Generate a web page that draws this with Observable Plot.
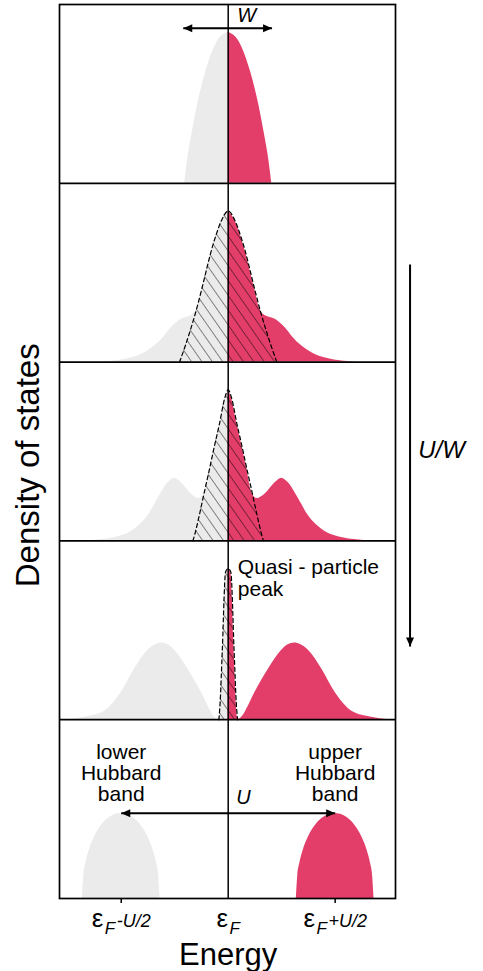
<!DOCTYPE html>
<html><head><meta charset="utf-8">
<script src="https://cdn.jsdelivr.net/npm/d3@7"></script>
<script src="https://cdn.jsdelivr.net/npm/@observablehq/plot@0.6"></script>
<style>body{margin:0;background:#fff}</style>
</head><body><div id="chart"></div>
<script>
// ---- data (energies in units of U/2 from ε_F; DOS scaled to peak = 1) ----
// Panel 1: U = 0, bare band of width W
const band0E = [0, 0.1, 0.2, 0.28, 0.33, 0.37, 0.39, 0.407];
const band0D = [1, 0.94, 0.76, 0.54, 0.36, 0.2, 0.1, 0];
// Panel 2: small U/W
const dos2E = [0, 0.065, 0.112, 0.159, 0.206, 0.252, 0.29, 0.33, 0.44, 0.533, 0.595, 0.689, 0.813, 0.969, 1.124, 1.3];
const dos2D = [1, 0.934, 0.845, 0.735, 0.603, 0.47, 0.36, 0.316, 0.283, 0.227, 0.172, 0.106, 0.051, 0.018, 0.004, 0];
const qp2E = [0, 0.065, 0.112, 0.159, 0.206, 0.252, 0.3, 0.35, 0.4, 0.455];
const qp2D = [1, 0.934, 0.845, 0.735, 0.603, 0.47, 0.34, 0.22, 0.11, 0];
// Panel 3: intermediate U/W
const dos3E = [0, 0.034, 0.08, 0.128, 0.175, 0.22, 0.27, 0.345, 0.44, 0.5, 0.56, 0.66, 0.75, 0.875, 1.06, 1.34];
const dos3D = [1, 0.94, 0.78, 0.63, 0.475, 0.32, 0.28, 0.31, 0.386, 0.415, 0.386, 0.276, 0.166, 0.077, 0.022, 0];
const qp3E = [0, 0.034, 0.08, 0.128, 0.175, 0.224, 0.27, 0.308, 0.33];
const qp3D = [1, 0.94, 0.78, 0.63, 0.475, 0.32, 0.17, 0.055, 0];
// Panel 4: close to the transition
const dos4E = [0, 0.025, 0.04, 0.05, 0.062, 0.072, 0.085, 0.1, 0.13, 0.19, 0.25, 0.377, 0.5, 0.56, 0.62, 0.68, 0.75, 0.875, 1.0, 1.16, 1.34, 1.5];
const dos4D = [1, 0.976, 0.777, 0.556, 0.336, 0.159, 0.02, 0.004, 0.02, 0.093, 0.18, 0.336, 0.46, 0.497, 0.508, 0.497, 0.46, 0.336, 0.18, 0.055, 0.017, 0];
const qp4E = [0, 0.025, 0.04, 0.05, 0.062, 0.072, 0.087];
const qp4D = [1, 0.976, 0.777, 0.556, 0.336, 0.159, 0];
// Panel 5: Mott insulator, Hubbard bands centred at ±U/2 (offset from band centre)
const hubbardCentre = 1;
const hubE = [0, 0.1, 0.18, 0.25, 0.3, 0.33, 0.35, 0.363];
const hubD = [0.563, 0.541, 0.489, 0.408, 0.317, 0.235, 0.149, 0];

const tickValues = [-1, 0, 1];
const tickSymbol = ["ε", "ε", "ε"];
const tickSub = ["F", "F", "F"];
const tickSuffix = ["-U/2", "", "+U/2"];

// ---- build tables ----
const H = 1.184;                       // one panel in DOS units
const base = p => (4 - p) * H;         // p = 0 (top) ... 4 (bottom)
const red = "#E23E69", grey = "#EBEBEB";

const greyRows = [], redRows = [], qpRows = [];
function addSymmetric(p, E, D) {
  for (let i = E.length - 1; i >= 0; i--) greyRows.push({k: "g" + p, e: -E[i], b: base(p), t: base(p) + D[i]});
  for (let i = 0; i < E.length; i++) redRows.push({k: "r" + p, e: E[i], b: base(p), t: base(p) + D[i]});
}
function addQP(p, E, D) {
  for (let i = E.length - 1; i > 0; i--) qpRows.push({k: "q" + p, e: -E[i], b: base(p), t: base(p) + D[i]});
  for (let i = 0; i < E.length; i++) qpRows.push({k: "q" + p, e: E[i], b: base(p), t: base(p) + D[i]});
}
addSymmetric(0, band0E, band0D);
addSymmetric(1, dos2E, dos2D);
addSymmetric(2, dos3E, dos3D);
addSymmetric(3, dos4E, dos4D);
addQP(1, qp2E, qp2D);
addQP(2, qp3E, qp3D);
addQP(3, qp4E, qp4D);
// Hubbard bands
for (const [rows, c, k] of [[greyRows, -hubbardCentre, "gh"], [redRows, hubbardCentre, "rh"]]) {
  for (let i = hubE.length - 1; i > 0; i--) rows.push({k, e: c - hubE[i], b: 0, t: hubD[i]});
  for (let i = 0; i < hubE.length; i++) rows.push({k, e: c + hubE[i], b: 0, t: hubD[i]});
}

const arrows = [
  {x1: 0, y1: base(0) + 1.026, x2: -0.42, y2: base(0) + 1.026},
  {x1: 0, y1: base(0) + 1.026, x2: 0.41, y2: base(0) + 1.026},
  {x1: 0, y1: 0.565, x2: -1, y2: 0.565},
  {x1: 0, y1: 0.565, x2: 1, y2: 0.565},
  {x1: 1.70, y1: 4.199, x2: 1.70, y2: 1.669}
];

const font = "'Liberation Sans', Arial, Helvetica, sans-serif";
const chart = Plot.plot({
  width: 483, height: 971,
  marginLeft: 59, marginRight: 88, marginTop: 4, marginBottom: 73,
  x: {domain: [-1.577, 1.564], axis: null},
  y: {domain: [0, 5 * H], axis: null},
  style: {fontFamily: font, background: "white", overflow: "visible", color: "black"},
  marks: [
    Plot.areaY(greyRows, {x: "e", y1: "b", y2: "t", z: "k", fill: grey, curve: "monotone-x"}),
    Plot.areaY(redRows, {x: "e", y1: "b", y2: "t", z: "k", fill: red, curve: "monotone-x"}),
    Plot.areaY(qpRows, {x: "e", y1: "b", y2: "t", z: "k", fill: "url(#hatch)", curve: "monotone-x"}),
    Plot.line(qpRows, {x: "e", y: "t", z: "k", stroke: "black", strokeWidth: 1.2, strokeDasharray: "4,3", curve: "monotone-x"}),
    Plot.ruleY([1, 2, 3, 4].map(i => i * H), {stroke: "black", strokeWidth: 1.7}),
    Plot.frame({stroke: "black", strokeWidth: 1.7}),
    Plot.ruleX([0], {stroke: "black", strokeWidth: 1.5}),
    Plot.ruleX(tickValues.filter(d => d !== 0), {y1: 0, y2: -5 / 151, stroke: "black", strokeWidth: 1.5}),
    Plot.link(arrows, {x1: "x1", y1: "y1", x2: "x2", y2: "y2", stroke: "black", strokeWidth: 2, markerEnd: "arrow"}),
    Plot.text(["W"], {x: 0.173, y: 5.848, fontSize: 20, fontStyle: "italic"}),
    Plot.text(["U"], {x: 0.143, y: 0.669, fontSize: 20, fontStyle: "italic"}),
    Plot.text(["U/W"], {x: 1.776, y: 2.967, fontSize: 24, fontStyle: "italic", textAnchor: "start"}),
    Plot.text(["Quasi - particle\npeak"], {x: 0.09, y: 2.122, fontSize: 21, textAnchor: "start", lineHeight: 1.03}),
    Plot.text(["lower\nHubbard\nband"], {x: -hubbardCentre, y: 0.829, fontSize: 21, lineHeight: 1.01}),
    Plot.text(["upper\nHubbard\nband"], {x: hubbardCentre, y: 0.829, fontSize: 21, lineHeight: 1.01}),
    Plot.text(tickValues, {x: d => d, y: -0.135, text: (d, i) => tickSymbol[i] + tickSub[i] + tickSuffix[i], fontSize: 26}),
    Plot.text(["Energy"], {x: 0, y: -0.377, fontSize: 31}),
    Plot.text(["Density of states"], {x: -1.866, y: 2.869, fontSize: 33, rotate: -90})
  ]
});

// defs: hatch pattern and filled arrowhead
const defs = document.createElementNS("http://www.w3.org/2000/svg", "defs");
defs.innerHTML = `
<pattern id="hatch" patternUnits="userSpaceOnUse" width="8.5" height="8.5" patternTransform="rotate(-35)">
  <line x1="0" y1="-1" x2="0" y2="10" stroke="#000" stroke-width="0.9"/>
</pattern>
<marker id="tri" viewBox="-10 -5 11 10" markerWidth="11" markerHeight="10" markerUnits="userSpaceOnUse" orient="auto" refX="0" refY="0">
  <path d="M-9,-4L0,0L-9,4Z" fill="#000"/>
</marker>`;
chart.insertBefore(defs, chart.firstChild);
d3.select(chart).selectAll("[marker-end]").attr("marker-end", "url(#tri)");

// rich tick labels ε_F ± U/2
let ti = 0;
d3.select(chart).selectAll("text").filter(function() { return this.textContent.startsWith("ε"); })
  .each(function() {
    const i = ti++;
    const t = d3.select(this);
    t.text("");
    t.append("tspan").text(tickSymbol[i]);
    t.append("tspan").attr("font-size", 17).attr("font-style", "italic").attr("dx", 1.5).attr("dy", 6.5).text(tickSub[i]);
    if (tickSuffix[i]) t.append("tspan").attr("font-size", 18).attr("font-style", "italic").attr("dx", 1.5).attr("dy", -6.5).text(tickSuffix[i]);
  });

document.getElementById("chart").appendChild(chart);
</script></body></html>
